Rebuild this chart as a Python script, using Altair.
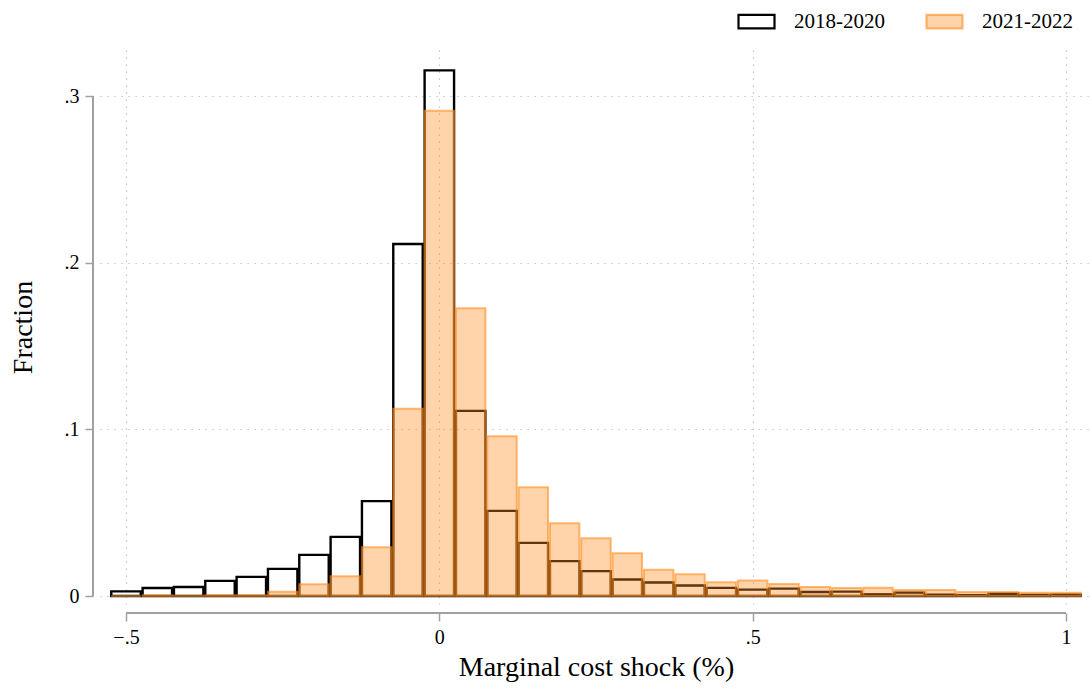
import altair as alt
import pandas as pd

# Bin centers (marginal cost shock, %)
centers = [-0.50, -0.45, -0.40, -0.35, -0.30, -0.25, -0.20, -0.15, -0.10, -0.05,
           0.00, 0.05, 0.10, 0.15, 0.20, 0.25, 0.30, 0.35, 0.40, 0.45,
           0.50, 0.55, 0.60, 0.65, 0.70, 0.75, 0.80, 0.85, 0.90, 0.95, 1.00]

frac_2018_2020 = [0.0028, 0.0048, 0.0054, 0.0091, 0.0115, 0.0163, 0.0247, 0.0355, 0.0569, 0.2112,
                  0.3154, 0.1111, 0.0511, 0.0319, 0.0209, 0.0149, 0.0099, 0.0081, 0.0063, 0.0049,
                  0.0038, 0.0044, 0.0024, 0.0026, 0.0010, 0.0020, 0.0008, 0.0005, 0.0014, 0.0006, 0.0008]

frac_2021_2022 = [0.0000, 0.0004, 0.0002, 0.0004, 0.0004, 0.0026, 0.0070, 0.0118, 0.0292, 0.1124,
                  0.2912, 0.1727, 0.0959, 0.0653, 0.0437, 0.0347, 0.0257, 0.0157, 0.0131, 0.0083,
                  0.0093, 0.0072, 0.0054, 0.0048, 0.0050, 0.0036, 0.0036, 0.0024, 0.0024, 0.0020, 0.0020]

series_names = ["2018-2020", "2021-2022"]
half_bar = 0.0235  # drawn half-width of each bar (bins are 0.05 wide, small gap between)

x_ticks = [-0.5, 0, 0.5, 1]
y_ticks = [0, 0.1, 0.2, 0.3]

rows = []
for name, vals in zip(series_names, [frac_2018_2020, frac_2021_2022]):
    for c, v in zip(centers, vals):
        rows.append({"series": name, "lo": c - half_bar, "hi": c + half_bar, "frac": v, "base": 0.0})
df = pd.DataFrame(rows)

W, H = 992, 554
FONT = "Liberation Serif"

xscale = alt.Scale(domain=[-0.5415, 1.0415], nice=False, zero=False)
yscale = alt.Scale(domain=[-0.0048, 0.3276], nice=False, zero=False)
label_expr = "replace(format(datum.value, '.1~f'), '0.', '.')"

xaxis = alt.Axis(values=x_ticks, labelExpr=label_expr, title="Marginal cost shock (%)",
                 offset=9, tickSize=8, labelPadding=6, titlePadding=6)
yaxis = alt.Axis(values=y_ticks, labelExpr=label_expr, title="Fraction",
                 offset=7, tickSize=8, labelPadding=6, titlePadding=27)

legend_path = "M-1,-0.38H1V0.38H-1Z"

bars = alt.Chart(df).mark_bar().encode(
    x=alt.X("lo:Q", scale=xscale, axis=xaxis),
    x2="hi:Q",
    y=alt.Y("frac:Q", scale=yscale, axis=yaxis),
    y2="base:Q",
    fill=alt.Fill("series:N",
                  scale=alt.Scale(domain=series_names,
                                  range=["rgba(0,0,0,0)", "rgba(255,140,30,0.375)"]),
                  legend=alt.Legend(title=None)),
    stroke=alt.Stroke("series:N",
                      scale=alt.Scale(domain=series_names,
                                      range=["#000000", "rgba(255,140,30,0.6)"]),
                      legend=alt.Legend(title=None)),
    strokeWidth=alt.condition("datum.series == '2018-2020'", alt.value(2.4), alt.value(2)),
)

xline_df = pd.DataFrame({"lo": [min(x_ticks)], "hi": [max(x_ticks)]})
yline_df = pd.DataFrame({"frac": [max(y_ticks)], "base": [min(y_ticks)]})

xline = alt.Chart(xline_df).mark_rule(color="#a0a0a0", strokeWidth=2).encode(
    x=alt.X("lo:Q", scale=xscale, axis=xaxis),
    x2="hi:Q",
    y=alt.value(H + 9),
)
yline = alt.Chart(yline_df).mark_rule(color="#a0a0a0", strokeWidth=2).encode(
    y=alt.Y("frac:Q", scale=yscale, axis=yaxis),
    y2="base:Q",
    x=alt.value(-7),
)

chart = alt.layer(bars, xline, yline).properties(
    width=W, height=H,
    autosize=alt.AutoSizeParams(type="none"),
    padding={"left": 100, "top": 50, "right": 0, "bottom": 86},
    background="white",
).configure_view(stroke=None).configure_axis(
    labelFont=FONT, titleFont=FONT, labelFontSize=20, titleFontSize=28,
    titleFontWeight="normal", labelColor="black", titleColor="black",
    domain=False, tickColor="#a0a0a0", tickWidth=1.5,
    grid=True, gridColor="#b8b8b8", gridDash=[1.2, 5.8], gridWidth=1.2,
).configure_axisY(labelAngle=0).configure_legend(
    orient="none", legendX=637, legendY=-48, direction="horizontal",
    labelFont=FONT, labelFontSize=21, labelColor="black",
    symbolType=legend_path, symbolSize=1296, symbolStrokeWidth=2.2,
    labelOffset=18, columnPadding=37,
)

chart.save("out.html", embed_options={"renderer": "svg", "actions": False})
